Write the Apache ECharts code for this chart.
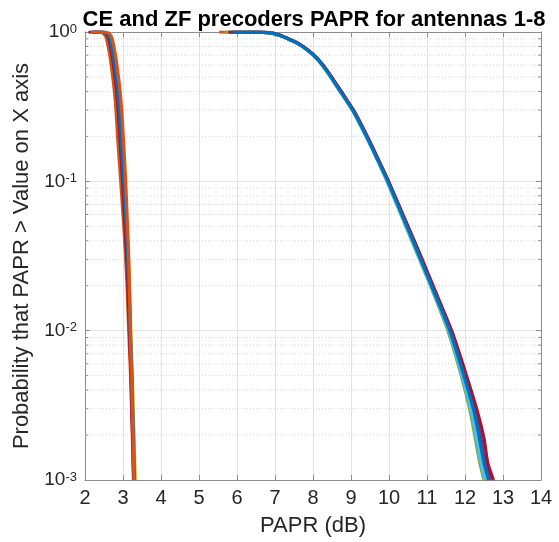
<!DOCTYPE html>
<html><head><meta charset="utf-8">
<script src="https://cdn.jsdelivr.net/npm/echarts/dist/echarts.min.js"></script>
<style>html,body{margin:0;padding:0;background:#fff}#c{width:559px;height:542px}</style>
</head><body><div id="c"></div>
<script>
// ---- tick values ----
const xTicks = [2,3,4,5,6,7,8,9,10,11,12,13,14];
const yDecades = [0.001, 0.01, 0.1, 1];
const yMinor = [0.002,0.003,0.004,0.005,0.006,0.007,0.008,0.009,
                0.02,0.03,0.04,0.05,0.06,0.07,0.08,0.09,
                0.2,0.3,0.4,0.5,0.6,0.7,0.8,0.9];

// ---- ZF precoder CCDF: probability levels and PAPR (dB) per antenna ----
const zfP  = [1, 0.998, 0.99, 0.975, 0.95, 0.9, 0.84, 0.75, 0.665, 0.57, 0.5, 0.398, 0.293, 0.195, 0.14, 0.1, 0.0514, 0.0324, 0.02, 0.01, 0.005, 0.00286, 0.0019, 0.0013, 0.001];
const zfX1 = [5.95, 6.55, 6.82, 6.98, 7.12, 7.34, 7.60, 7.88, 8.10, 8.32, 8.47, 8.73, 9.07, 9.43, 9.70, 9.97, 10.45, 10.78, 11.12, 11.60, 11.96, 12.21, 12.34, 12.46, 12.58];
const zfX2 = [5.53, 6.56, 6.83, 6.99, 7.13, 7.35, 7.61, 7.89, 8.11, 8.33, 8.48, 8.74, 9.08, 9.44, 9.71, 9.98, 10.46, 10.79, 11.13, 11.61, 11.98, 12.25, 12.38, 12.50, 12.62];
const zfX3 = [5.90, 6.55, 6.82, 6.98, 7.12, 7.34, 7.60, 7.88, 8.10, 8.32, 8.47, 8.73, 9.07, 9.43, 9.70, 9.96, 10.44, 10.77, 11.11, 11.58, 11.94, 12.20, 12.32, 12.44, 12.55];
const zfX4 = [5.85, 6.56, 6.83, 6.99, 7.13, 7.35, 7.61, 7.89, 8.11, 8.33, 8.48, 8.74, 9.08, 9.44, 9.71, 9.98, 10.46, 10.80, 11.14, 11.63, 12.00, 12.28, 12.42, 12.55, 12.68];
const zfX5 = [5.68, 6.54, 6.81, 6.97, 7.11, 7.33, 7.59, 7.87, 8.09, 8.31, 8.46, 8.72, 9.06, 9.42, 9.69, 9.95, 10.42, 10.75, 11.09, 11.55, 11.90, 12.14, 12.27, 12.39, 12.50];
const zfX6 = [5.92, 6.54, 6.81, 6.97, 7.11, 7.33, 7.59, 7.87, 8.09, 8.31, 8.46, 8.72, 9.06, 9.42, 9.69, 9.95, 10.43, 10.76, 11.10, 11.57, 11.92, 12.17, 12.30, 12.42, 12.52];
const zfX7 = [5.77, 6.56, 6.83, 6.99, 7.13, 7.35, 7.61, 7.89, 8.11, 8.33, 8.49, 8.75, 9.09, 9.45, 9.72, 9.99, 10.48, 10.82, 11.16, 11.65, 12.04, 12.33, 12.50, 12.60, 12.75];
const zfX8 = [5.88, 6.55, 6.82, 6.98, 7.12, 7.34, 7.60, 7.88, 8.10, 8.32, 8.47, 8.73, 9.07, 9.43, 9.70, 9.97, 10.45, 10.78, 11.12, 11.60, 11.97, 12.24, 12.38, 12.50, 12.62];

// ---- CE precoder CCDF ----
const ceP  = [1, 0.998, 0.99, 0.97, 0.93, 0.88, 0.8, 0.665, 0.5, 0.398, 0.3, 0.195, 0.1, 0.05, 0.034, 0.02, 0.01, 0.005, 0.00316, 0.002, 0.001];
const ceX1 = [2.20, 2.38, 2.45, 2.50, 2.545, 2.575, 2.61, 2.665, 2.73, 2.775, 2.815, 2.86, 2.94, 3.02, 3.06, 3.105, 3.15, 3.20, 3.222, 3.245, 3.275];
const ceX2 = [2.25, 2.47, 2.55, 2.60, 2.645, 2.675, 2.71, 2.765, 2.83, 2.875, 2.915, 2.96, 3.03, 3.095, 3.135, 3.17, 3.205, 3.245, 3.265, 3.29, 3.32];
const ceX3 = [2.22, 2.44, 2.52, 2.57, 2.615, 2.645, 2.68, 2.735, 2.80, 2.845, 2.885, 2.93, 3.00, 3.065, 3.10, 3.14, 3.175, 3.215, 3.235, 3.258, 3.285];
const ceX4 = [2.24, 2.48, 2.56, 2.61, 2.655, 2.685, 2.72, 2.775, 2.84, 2.885, 2.925, 2.97, 3.04, 3.10, 3.135, 3.168, 3.20, 3.24, 3.26, 3.28, 3.31];
const ceX5 = [2.20, 2.45, 2.53, 2.58, 2.625, 2.655, 2.69, 2.745, 2.81, 2.855, 2.895, 2.94, 3.01, 3.075, 3.11, 3.148, 3.185, 3.225, 3.245, 3.267, 3.295];
const ceX6 = [2.09, 2.43, 2.51, 2.56, 2.605, 2.635, 2.67, 2.725, 2.79, 2.835, 2.875, 2.92, 2.99, 3.055, 3.09, 3.13, 3.17, 3.21, 3.23, 3.252, 3.28];
const ceX7 = [2.18, 2.46, 2.54, 2.59, 2.635, 2.665, 2.70, 2.755, 2.82, 2.865, 2.905, 2.95, 3.02, 3.085, 3.12, 3.155, 3.19, 3.23, 3.25, 3.272, 3.30];
const ceX8 = [2.15, 2.51, 2.60, 2.65, 2.695, 2.725, 2.76, 2.815, 2.88, 2.925, 2.965, 3.01, 3.07, 3.12, 3.145, 3.168, 3.19, 3.225, 3.245, 3.265, 3.29];

const palette = ['#0072BD','#D95319','#EDB120','#7E2F8E','#77AC30','#4DBEEE','#A2142F'];
const zfXs = [zfX1,zfX2,zfX3,zfX4,zfX5,zfX6,zfX7,zfX8];
const ceXs = [ceX1,ceX2,ceX3,ceX4,ceX5,ceX6,ceX7,ceX8];

const FONT = '"Liberation Sans", Arial, Helvetica, sans-serif';
const series = [];
// minor grid lines + minor ticks of the log axis
series.push({
  type: 'custom', silent: true, z: 1, clip: false,
  data: yMinor.map(v => [xTicks[0], v]),
  renderItem: function (params, api) {
    const v = api.value(1);
    const a = api.coord([xTicks[0], v]);
    const b = api.coord([xTicks[xTicks.length - 1], v]);
    return { type: 'group', children: [
      { type: 'line', shape: {x1: a[0], y1: a[1], x2: b[0], y2: b[1]},
        style: {stroke: '#d2d2d2', lineWidth: 1, lineDash: [1, 2]} },
      { type: 'line', shape: {x1: a[0], y1: a[1], x2: a[0] + 3, y2: a[1]},
        style: {stroke: '#8c8c8c', lineWidth: 1} },
      { type: 'line', shape: {x1: b[0] - 3, y1: b[1], x2: b[0], y2: b[1]},
        style: {stroke: '#8c8c8c', lineWidth: 1} }
    ]};
  }
});
let k = 0;
function addLine(xs, ps) {
  const col = palette[k % 7];
  series.push({ type: 'line', showSymbol: false, symbol: 'none', z: 3, smooth: 0.2,
    data: xs.map((x, i) => [x, ps[i]]),
    lineStyle: {width: 3.2, color: col}, itemStyle: {color: col} });
  k++;
}
zfXs.forEach(xs => addLine(xs, zfP));
ceXs.forEach(xs => addLine(xs, ceP));

const axisCol = '#8c8c8c';
const labCol = '#262626';
const supFmt = v => '{b|10}{s|' + Math.round(Math.log10(v)) + '}';

const chart = echarts.init(document.getElementById('c'), null, {renderer: 'canvas'});
chart.setOption({
  animation: false,
  backgroundColor: '#fff',
  title: { text: 'CE and ZF precoders PAPR for antennas 1-8', left: 309, top: 4, textAlign: 'center',
    textStyle: {fontFamily: FONT, fontWeight: 'bold', fontSize: 22, color: '#000'} },
  grid: { left: 85, right: 18, top: 32, bottom: 61 },
  xAxis: [{
    type: 'value', min: xTicks[0], max: xTicks[xTicks.length - 1], interval: 1, position: 'bottom',
    name: 'PAPR (dB)', nameLocation: 'middle', nameGap: 35,
    nameTextStyle: {fontFamily: FONT, fontSize: 22, color: labCol},
    axisLine: {show: true, onZero: false, lineStyle: {color: axisCol}},
    axisTick: {show: true, inside: true, length: 5, lineStyle: {color: axisCol}},
    axisLabel: {fontFamily: FONT, fontSize: 20, color: labCol, margin: 8},
    splitLine: {show: true, lineStyle: {color: '#e3e3e3', width: 1}}
  }, {
    type: 'value', min: xTicks[0], max: xTicks[xTicks.length - 1], interval: 1, position: 'top',
    axisLine: {show: true, onZero: false, lineStyle: {color: axisCol}},
    axisTick: {show: true, inside: true, length: 5, lineStyle: {color: axisCol}},
    axisLabel: {show: false}, splitLine: {show: false}
  }],
  yAxis: [{
    type: 'log', logBase: 10, min: yDecades[0], max: yDecades[yDecades.length - 1], interval: 1, position: 'left',
    name: 'Probability that PAPR > Value on X axis', nameLocation: 'middle', nameGap: 43,
    nameTextStyle: {fontFamily: FONT, fontSize: 22, color: labCol},
    axisLine: {show: true, lineStyle: {color: axisCol}},
    axisTick: {show: true, inside: true, length: 5, lineStyle: {color: axisCol}},
    axisLabel: {formatter: supFmt, margin: 8, rich: {
      b: {fontFamily: FONT, fontSize: 19, color: labCol},
      s: {fontFamily: FONT, fontSize: 13, color: labCol, verticalAlign: 'top'}
    }},
    splitLine: {show: true, lineStyle: {color: '#e3e3e3', width: 1}}
  }, {
    type: 'log', logBase: 10, min: yDecades[0], max: yDecades[yDecades.length - 1], interval: 1, position: 'right',
    axisLine: {show: true, lineStyle: {color: axisCol}},
    axisTick: {show: true, inside: true, length: 5, lineStyle: {color: axisCol}},
    axisLabel: {show: false}, splitLine: {show: false}
  }],
  series: series
});
</script>
</body></html>
